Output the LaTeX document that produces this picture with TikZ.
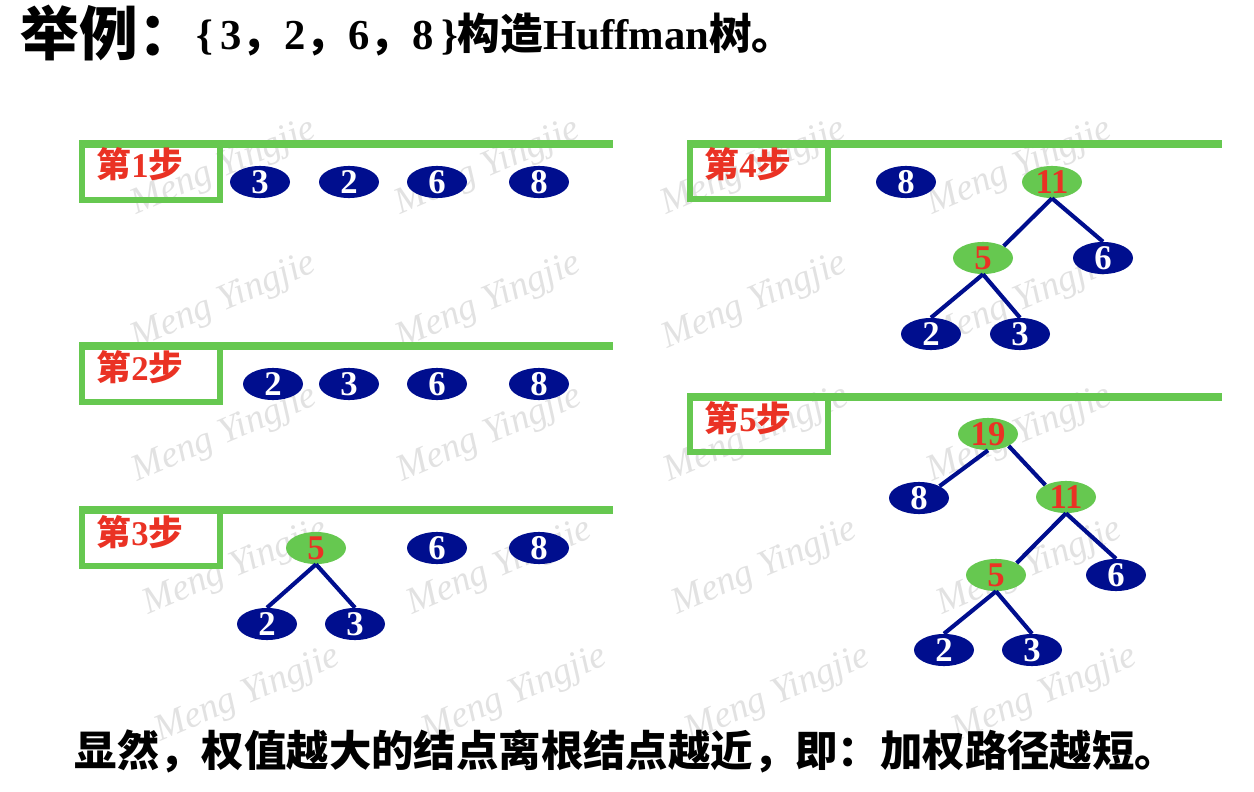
\documentclass[tikz,border=0pt]{standalone}
\usepackage{fontspec}
\setmainfont{Liberation Serif}
\newfontfamily\cjk{Noto Sans CJK SC}
\usetikzlibrary{shapes.geometric}

\definecolor{stepgreen}{RGB}{102,200,80}
\definecolor{navyblue}{RGB}{0,14,142}
\definecolor{stepred}{RGB}{234,50,36}
\definecolor{wmgray}{RGB}{226,226,226}

\begin{document}
\begin{tikzpicture}[x=0.75pt,y=-0.75pt,
  wmark/.style={text=wmgray,font=\itshape\fontsize{28}{28}\selectfont,rotate=23},
  stepbox/.style={draw=stepgreen,line width=4.5pt},
  stepline/.style={draw=stepgreen,line width=6pt},
  steplabel/.style={text=stepred,font=\bfseries\fontsize{26}{26}\selectfont},
  leaf/.style={ellipse,fill=navyblue,text=white,inner sep=0pt,minimum width=45pt,minimum height=21.75pt,text height=17pt,text depth=-1.6pt,font=\bfseries\fontsize{26}{26}\selectfont},
  merged/.style={leaf,fill=stepgreen,text=stepred},
  branch/.style={draw=navyblue,line width=3.1pt}]

\useasboundingbox (0,0) rectangle (1254,792);

% watermark
\node[wmark] (wm1) at (224,168) {Meng Yingjie};
\node[wmark] (wm2) at (488,168) {Meng Yingjie};
\node[wmark] (wm3) at (754,168) {Meng Yingjie};
\node[wmark] (wm4) at (1020,168) {Meng Yingjie};
\node[wmark] (wm5) at (224,302) {Meng Yingjie};
\node[wmark] (wm6) at (489,302) {Meng Yingjie};
\node[wmark] (wm7) at (755,302) {Meng Yingjie};
\node[wmark] (wm8) at (1020,302) {Meng Yingjie};
\node[wmark] (wm9) at (225,435) {Meng Yingjie};
\node[wmark] (wm10) at (490,435) {Meng Yingjie};
\node[wmark] (wm11) at (757,435) {Meng Yingjie};
\node[wmark] (wm12) at (1020,435) {Meng Yingjie};
\node[wmark] (wm13) at (236,568) {Meng Yingjie};
\node[wmark] (wm14) at (500,568) {Meng Yingjie};
\node[wmark] (wm15) at (765,568) {Meng Yingjie};
\node[wmark] (wm16) at (1030,568) {Meng Yingjie};
\node[wmark] (wm17) at (248,695) {Meng Yingjie};
\node[wmark] (wm18) at (515,695) {Meng Yingjie};
\node[wmark] (wm19) at (778,695) {Meng Yingjie};
\node[wmark] (wm20) at (1045,695) {Meng Yingjie};

% title
\node[anchor=base west,font=\cjk\bfseries\fontsize{44}{44}\selectfont] (title) at (16,56) {举例：};
\node[anchor=base west,font=\bfseries\fontsize{32}{32}\selectfont] (task) at (192,50) {\{\,3{\cjk ，}2{\cjk ，}6{\cjk ，}8\,\}{\cjk 构造}Huffman{\cjk 树。}};

% step frames
\draw[stepbox] (82,144) rectangle (220,200);
\draw[stepline] (79,144) -- (613,144);
\draw[stepbox] (82,346) rectangle (220,402);
\draw[stepline] (79,346) -- (613,346);
\draw[stepbox] (82,510) rectangle (220,566);
\draw[stepline] (79,510) -- (613,510);
\draw[stepbox] (690,144) rectangle (828,199);
\draw[stepline] (687,144) -- (1222,144);
\draw[stepbox] (690,397) rectangle (828,452);
\draw[stepline] (687,397) -- (1222,397);

\node[steplabel] (lab1) at (140,164) {{\cjk 第}1{\cjk 步}};
\node[steplabel] (lab2) at (140,367) {{\cjk 第}2{\cjk 步}};
\node[steplabel] (lab3) at (140,532) {{\cjk 第}3{\cjk 步}};
\node[steplabel] (lab4) at (748,164) {{\cjk 第}4{\cjk 步}};
\node[steplabel] (lab5) at (748,418) {{\cjk 第}5{\cjk 步}};

% step 1
\node[leaf] (a3) at (260,182) {3};
\node[leaf] (a2) at (349,182) {2};
\node[leaf] (a6) at (437,182) {6};
\node[leaf] (a8) at (539,182) {8};

% step 2
\node[leaf] (b2) at (273,384) {2};
\node[leaf] (b3) at (349,384) {3};
\node[leaf] (b6) at (437,384) {6};
\node[leaf] (b8) at (539,384) {8};

% step 3
\node[merged] (c5) at (316,548) {5};
\node[leaf] (c6) at (437,548) {6};
\node[leaf] (c8) at (539,548) {8};
\node[leaf] (c2) at (267,624) {2};
\node[leaf] (c3) at (355,624) {3};
\draw[branch] (c5.south) -- (c2.north);
\draw[branch] (c5.south) -- (c3.north);

% step 4
\node[leaf] (d8) at (906,182) {8};
\node[merged] (d11) at (1052,182) {11};
\node[merged] (d5) at (983,258) {5};
\node[leaf] (d6) at (1103,258) {6};
\node[leaf] (d2) at (931,334) {2};
\node[leaf] (d3) at (1020,334) {3};
\draw[branch] (d11.south) -- (d5.30);
\draw[branch] (d11.south) -- (d6.north);
\draw[branch] (d5.south) -- (d2.north);
\draw[branch] (d5.south) -- (d3.north);

% step 5
\node[merged] (e19) at (988,434) {19};
\node[leaf] (e8) at (919,498) {8};
\node[merged] (e11) at (1066,497) {11};
\node[merged] (e5) at (996,575) {5};
\node[leaf] (e6) at (1116,575) {6};
\node[leaf] (e2) at (944,650) {2};
\node[leaf] (e3) at (1032,650) {3};
\draw[branch] (e19.south) -- (e8.30);
\draw[branch] (e19.-30) -- (e11.150);
\draw[branch] (e11.south) -- (e5.30);
\draw[branch] (e11.south) -- (e6.north);
\draw[branch] (e5.south) -- (e2.north);
\draw[branch] (e5.south) -- (e3.north);

% remark
\node[anchor=base west,font=\cjk\bfseries\fontsize{31.8}{32}\selectfont] (remark) at (70,766) {显然，权值越大的结点离根结点越近，即：加权路径越短。};
\end{tikzpicture}
\end{document}
